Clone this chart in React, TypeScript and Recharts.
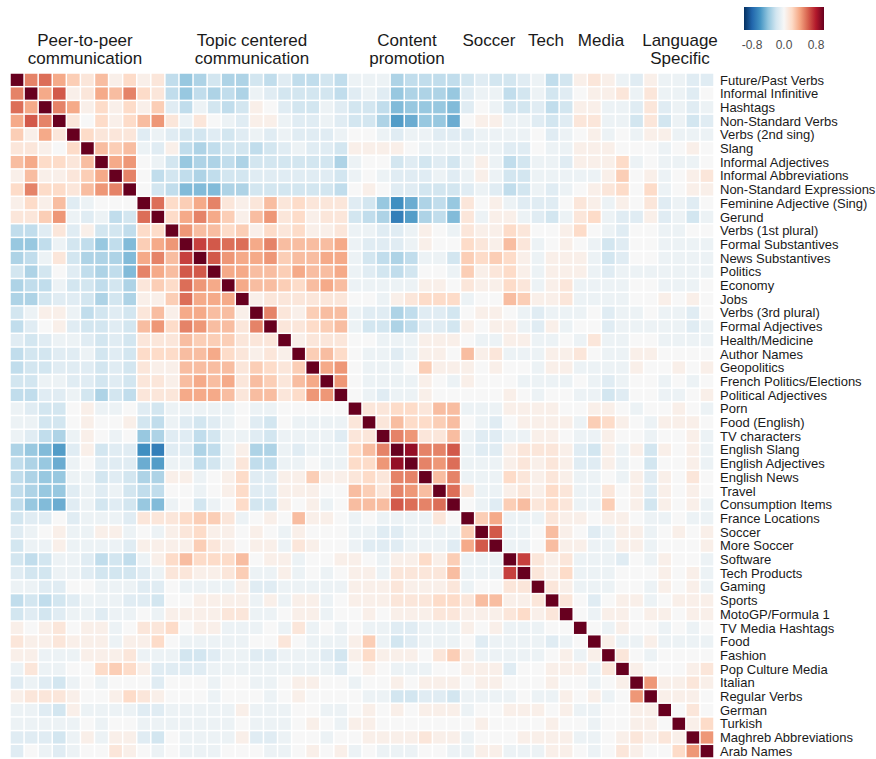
import React from "react";
import { ScatterChart, Scatter, XAxis, YAxis } from "recharts";

// row / column labels (same order on both axes)
const CATEGORIES = [
  "Future/Past Verbs",
  "Informal Infinitive",
  "Hashtags",
  "Non-Standard Verbs",
  "Verbs (2nd sing)",
  "Slang",
  "Informal Adjectives",
  "Informal Abbreviations",
  "Non-Standard Expressions",
  "Feminine Adjective (Sing)",
  "Gerund",
  "Verbs (1st plural)",
  "Formal Substantives",
  "News Substantives",
  "Politics",
  "Economy",
  "Jobs",
  "Verbs (3rd plural)",
  "Formal Adjectives",
  "Health/Medicine",
  "Author Names",
  "Geopolitics",
  "French Politics/Elections",
  "Political Adjectives",
  "Porn",
  "Food (English)",
  "TV characters",
  "English Slang",
  "English Adjectives",
  "English News",
  "Travel",
  "Consumption Items",
  "France Locations",
  "Soccer",
  "More Soccer",
  "Software",
  "Tech Products",
  "Gaming",
  "Sports",
  "MotoGP/Formula 1",
  "TV Media Hashtags",
  "Food",
  "Fashion",
  "Pop Culture Media",
  "Italian",
  "Regular Verbs",
  "German",
  "Turkish",
  "Maghreb Abbreviations",
  "Arab Names",
];

const GROUP_LABELS = [
  ["Peer-to-peer", "communication"],
  ["Topic centered", "communication"],
  ["Content", "promotion"],
  ["Soccer"],
  ["Tech"],
  ["Media"],
  ["Language", "Specific"],
];

const COLORBAR_TICKS = [-0.8, 0, 0.8];

// correlation levels, one character per cell
const LEVELS: Record<string, number> = {
  "0": 0,
  "1": 0.06, "2": 0.12, "3": 0.19, "4": 0.25, "5": 0.31, "6": 0.38, "7": 0.44,
  "8": 0.5, "9": 0.56, A: 0.62, B: 0.69, C: 0.75, D: 0.88, X: 1,
  a: -0.06, b: -0.12, c: -0.19, d: -0.25, e: -0.31, f: -0.38, g: -0.44,
  h: -0.5, i: -0.56, j: -0.62, k: -0.69, l: -0.75,
};

// upper triangle: row r holds columns r..50 (matrix is symmetric)
const CORR_UPPER = [
  "X8964251312dfecee" + "cdbddcdaaaeddddcb" + "ccbadc121ab1aabb",
  "X6A1265832dfdede" + "abccccdbabfeeefba" + "adcacb0112a2aab0",
  "X86131314bdacdc" + "10bccabccdgfffgb0" + "accbdc11aab2baba",
  "X20313572a20ab" + "11abbabcceihffh01" + "1aabcb22aac2cacb",
  "X3222babccbcb" + "ababbba00abaabbba" + "aaa0ba01a0a11aaa",
  "X545ab1dedcc" + "dcbabbc11110aaaaa" + "abb0aa111000a010",
  "X670acfeede" + "ccccccea00cbcbca1" + "adcaab1113a0aaa0",
  "X80dcdedcc" + "bbbbbbca0abbbaba1" + "accaaaaa1401a012",
  "X0cdgggee" + "ccccccd010bbcccba" + "bdcaba012303a011",
  "X9346821" + "2523222bcfjhedf20" + "1abbb021a102bab0",
  "X368641" + "5723122cdekiedg2a" + "11abca23abb1baca",
  "X75534" + "1323112aabba10a21" + "13200130ab00aa00",
  "XBA99" + "6855556abbba10032" + "152a010acb00aaaa",
  "XA76" + "6745566acdedaac43" + "431a111acb00aaaa",
  "X66" + "5546556abcdc00a41" + "231a111abaaaaaaa",
  "X6" + "5543565aaaaa11021" + "132a12aaaa00aaa0",
  "X" + "122222200a12333a0" + "054112aaaa001010",
  "X821455abbedbbc01" + "10abaaa0baa0aab0",
  "X22345accedbbc10" + "11ab1a00baaaaaba",
  "X122200aaa1110a" + "a11aa0a2aa00aaaa",
  "X4530aaba11051" + "2aaa1120aa110000",
  "X670aaa041110" + "100a11aaaa100101",
  "X70aaaa10a10" + "00aaaa0aba00a0a0",
  "X0abaa10000" + "010a00aacb00aa01",
  "X2233255aa" + "a111100110a0010a",
  "X2533450a" + "b01111a4310a1110",
  "X87225ab" + "baa110aa100a001a",
  "XD88Aab" + "b12221bc1a1c101a",
  "X879aa" + "a12121bb1a0c001a",
  "X58aa" + "a32121aa0a1b1020",
  "X92a" + "a12132aa201b1010",
  "X0a" + "b45232aa401c101a",
  "X4" + "6aaa2110110aa0aa",
  "X" + "Aaa0510ba11a0101",
  "Xaa0511aa11a0001",
  "XB212aaab0a100a",
  "X213aaa000101a",
  "X21aaa00a101a",
  "X20b011a0111",
  "X0a11011011",
  "X0a100a0a0",
  "X1aa1aaaa",
  "X20a0000",
  "X100012",
  "X71121",
  "X1110",
  "X020",
  "X13",
  "X7",
  "X",
];

const W = 876;
const H = 759;
const AXIS_W = 162;
const M = { top: 73, right: 0, bottom: 1, left: 10 };
const N = CATEGORIES.length;
const CELL_W = (W - M.left - M.right - AXIS_W) / N;
const CELL_H = (H - M.top - M.bottom) / N;
const FONT = "'Liberation Sans', Arial, Helvetica, sans-serif";

const RDBU = [
  "#053061", "#2166ac", "#4393c3", "#92c5de", "#d1e5f0", "#f7f7f7",
  "#fddbc7", "#f4a582", "#d6604d", "#b2182b", "#67001f",
];

function hexToRgb(h: string) {
  return [1, 3, 5].map((k) => parseInt(h.slice(k, k + 2), 16));
}

function colorFor(v: number) {
  const t = ((Math.max(-1, Math.min(1, v)) + 1) / 2) * 10;
  const i = Math.min(9, Math.floor(t));
  const f = t - i;
  const a = hexToRgb(RDBU[i]);
  const b = hexToRgb(RDBU[i + 1]);
  const c = a.map((x, k) => Math.round(x + (b[k] - x) * f));
  return `rgb(${c[0]},${c[1]},${c[2]})`;
}

function valueAt(r: number, c: number) {
  const ch = r <= c ? CORR_UPPER[r][c - r] : CORR_UPPER[c][r - c];
  return LEVELS[ch] ?? 0;
}

const cells: { x: number; y: number; v: number }[] = [];
for (let r = 0; r < N; r++) {
  for (let c = 0; c < N; c++) {
    cells.push({ x: c + 0.5, y: r + 0.5, v: valueAt(r, c) });
  }
}

const yTicks = CATEGORIES.map((_, i) => i + 0.5);

const HeatCell = (p: any) => (
  <rect
    x={p.cx - CELL_W / 2 + 0.75}
    y={p.cy - CELL_H / 2 + 0.75}
    width={CELL_W - 1.5}
    height={CELL_H - 1.5}
    fill={colorFor(p.payload.v)}
  />
);

const RowTick = (p: any) => (
  <text
    x={p.x - 2}
    y={p.y}
    dy="0.36em"
    fontSize={13}
    fontFamily={FONT}
    fill="#1a1a1a"
    textAnchor="start"
  >
    {CATEGORIES[Math.floor(p.payload.value)]}
  </text>
);

// header label centres
const GROUP_X = [85, 252, 407, 489, 546, 601, 680];

export default function App() {
  const barX = 744;
  const barW = 80;
  return (
    <div style={{ position: "absolute", left: 0, top: 0, width: W, height: H, background: "#fff" }}>
      <ScatterChart width={W} height={H} margin={M}>
        <XAxis type="number" dataKey="x" domain={[0, N]} hide />
        <YAxis
          type="number"
          dataKey="y"
          domain={[0, N]}
          reversed
          orientation="right"
          ticks={yTicks}
          interval={0}
          width={AXIS_W}
          tickLine={false}
          axisLine={false}
          tick={RowTick}
        />
        <Scatter data={cells} shape={HeatCell} isAnimationActive={false} />
      </ScatterChart>
      <svg
        width={W}
        height={M.top}
        style={{ position: "absolute", left: 0, top: 0, pointerEvents: "none" }}
      >
        <defs>
          <linearGradient id="rdbu" x1="0" x2="1" y1="0" y2="0">
            {RDBU.map((c, i) => (
              <stop key={i} offset={`${(i / 10) * 100}%`} stopColor={c} />
            ))}
          </linearGradient>
        </defs>
        {GROUP_LABELS.map((lines, gi) =>
          lines.map((t, li) => (
            <text
              key={`${gi}-${li}`}
              x={GROUP_X[gi]}
              y={46 + li * 18}
              textAnchor="middle"
              fontSize={17}
              fontFamily={FONT}
              fill="#1a1a1a"
            >
              {t}
            </text>
          ))
        )}
        <rect x={barX} y={7} width={barW} height={23} fill="url(#rdbu)" />
        {COLORBAR_TICKS.map((t) => (
          <text
            key={t}
            x={barX + ((t + 1) / 2) * barW}
            y={49}
            textAnchor="middle"
            fontSize={12}
            fontFamily={FONT}
            fill="#4d4d4d"
          >
            {t.toFixed(1)}
          </text>
        ))}
      </svg>
    </div>
  );
}
